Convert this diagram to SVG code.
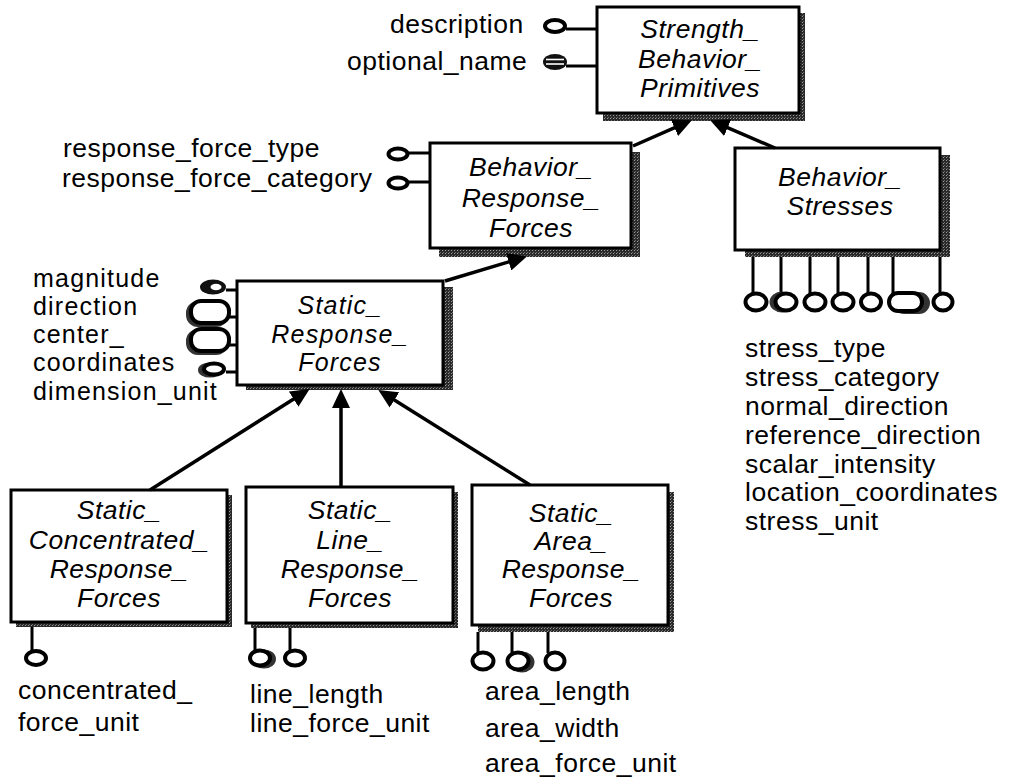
<svg xmlns="http://www.w3.org/2000/svg" width="1009" height="780" viewBox="0 0 1009 780">
  <defs>
    <!-- stippled drop shadow used behind every entity box -->
    <pattern id="stipple" width="3" height="3" patternUnits="userSpaceOnUse">
      <rect width="3" height="3" fill="#2a2a2a"/>
      <rect x="1" y="1" width="1" height="1" fill="#9a9a9a"/>
      <rect x="2" y="0" width="1" height="1" fill="#6a6a6a"/>
    </pattern>
    <!-- solid arrowhead pointing at the supertype -->
    <marker id="arrow" markerUnits="userSpaceOnUse" markerWidth="20" markerHeight="18"
            viewBox="0 0 20 18" refX="9" refY="9" orient="auto">
      <path d="M0,0 L19,9 L0,18 z" fill="#000"/>
    </marker>
    <style>
      .box { fill: #fff; stroke: #000; stroke-width: 3; }
      .shadow { fill: url(#stipple); }
      .title { font-family: "Liberation Sans", Arial, sans-serif; font-style: italic; font-size: 26.5px; letter-spacing: 0.5px; text-anchor: middle; fill: #000; }
      .attr { font-family: "Liberation Sans", Arial, sans-serif; font-size: 26.5px; letter-spacing: 0.5px; fill: #000; }
      .tight { font-size: 25px; letter-spacing: 1.2px; }
      .stem { stroke: #000; stroke-width: 3; fill: none; }
      .ring { fill: #fff; stroke: #000; stroke-width: 4; }
      .ringsh { fill: #333; stroke: #333; stroke-width: 4; }
      .link { stroke: #000; stroke-width: 3.5; fill: none; marker-end: url(#arrow); }
    </style>
  </defs>

  <rect width="1009" height="780" fill="#fff"/>

  <!-- Strength_Behavior_Primitives -->
  <g id="strength_behavior_primitives">
    <rect class="shadow" x="603" y="13" width="202" height="108"/>
    <rect class="box" x="597" y="7" width="202" height="106"/>
    <text class="title" x="700" y="38">Strength_</text>
    <text class="title" x="700" y="68">Behavior_</text>
    <text class="title" x="700" y="97">Primitives</text>
    <line class="stem" x1="566" y1="29" x2="597" y2="29"/>
    <ellipse class="ring" cx="555" cy="26" rx="10" ry="6"/>
    <text class="attr" x="390" y="33">description</text>
    <line class="stem" x1="566" y1="66" x2="597" y2="66"/>
    <ellipse cx="555" cy="62" rx="12" ry="8" fill="#111"/>
    <line x1="546" y1="59.5" x2="564" y2="59.5" stroke="#fff" stroke-width="1.6"/>
    <line x1="546" y1="64" x2="564" y2="64" stroke="#fff" stroke-width="1.6"/>
    <text class="attr" x="347" y="70">optional_name</text>
  </g>

  <!-- Behavior_Response_Forces -->
  <g id="behavior_response_forces">
    <rect class="shadow" x="439" y="152" width="201" height="105"/>
    <rect class="box" x="430" y="143" width="201" height="105"/>
    <text class="title" x="531" y="176">Behavior_</text>
    <text class="title" x="531" y="207">Response_</text>
    <text class="title" x="531" y="237">Forces</text>
    <line class="stem" x1="408" y1="153" x2="430" y2="153"/>
    <ellipse class="ring" cx="398" cy="154" rx="9.5" ry="5.5"/>
    <text class="attr" x="63" y="157">response_force_type</text>
    <line class="stem" x1="408" y1="182" x2="430" y2="182"/>
    <ellipse class="ring" cx="398" cy="183" rx="9.5" ry="5.5"/>
    <text class="attr" x="62" y="187">response_force_category</text>
  </g>

  <!-- Behavior_Stresses -->
  <g id="behavior_stresses">
    <rect class="shadow" x="745" y="155" width="205" height="102"/>
    <rect class="box" x="735" y="148" width="205" height="102"/>
    <text class="title" x="840" y="186">Behavior_</text>
    <text class="title" x="840" y="215">Stresses</text>
    <path class="stem" d="M753,257 V294 M781,257 V294 M810,257 V294 M838,257 V294 M868,257 V294 M893,257 V294 M940,257 V294"/>
    <ellipse class="ring" cx="756" cy="302" rx="10.5" ry="8.5"/>
    <ellipse class="ringsh" cx="782" cy="302" rx="10.5" ry="8.5"/>
    <ellipse class="ring" cx="786" cy="302" rx="10.5" ry="8.5"/>
    <ellipse class="ring" cx="815" cy="302" rx="10.5" ry="8.5"/>
    <ellipse class="ring" cx="843" cy="302" rx="10.5" ry="8.5"/>
    <ellipse class="ring" cx="871" cy="302" rx="10" ry="8.5"/>
    <rect class="ringsh" x="895" y="294" width="33" height="18" rx="9"/>
    <rect class="ring" x="889" y="293" width="33" height="18" rx="9"/>
    <ellipse class="ring" cx="943" cy="302" rx="9.5" ry="8.5"/>
    <text class="attr" x="745" y="357">stress_type</text>
    <text class="attr" x="745" y="386">stress_category</text>
    <text class="attr" x="745" y="415">normal_direction</text>
    <text class="attr" x="745" y="444">reference_direction</text>
    <text class="attr" x="745" y="473">scalar_intensity</text>
    <text class="attr" x="745" y="501">location_coordinates</text>
    <text class="attr" x="745" y="530">stress_unit</text>
  </g>

  <!-- Static_Response_Forces -->
  <g id="static_response_forces">
    <rect class="shadow" x="246" y="287" width="207" height="103"/>
    <rect class="box" x="237" y="281" width="206" height="104"/>
    <text class="title tight" x="340" y="314">Static_</text>
    <text class="title tight" x="340" y="343">Response_</text>
    <text class="title tight" x="340" y="371">Forces</text>
    <path class="stem" d="M226,290 H237 M229,317 H237 M229,345 H237 M226,372 H237"/>
    <ellipse cx="213" cy="287" rx="13" ry="7.5" fill="#111"/>
    <ellipse cx="216" cy="287" rx="5.5" ry="3.2" fill="#fff"/>
    <rect class="ringsh" x="188" y="303" width="38" height="22" rx="10"/>
    <rect class="ring" x="191" y="301" width="38" height="22" rx="10"/>
    <rect class="ringsh" x="188" y="331" width="38" height="22" rx="10"/>
    <rect class="ring" x="191" y="329" width="38" height="22" rx="10"/>
    <ellipse class="ringsh" cx="210" cy="370" rx="10" ry="5.5"/>
    <ellipse class="ring" cx="214" cy="369" rx="10" ry="5.5"/>
    <text class="attr tight" x="33" y="287">magnitude</text>
    <text class="attr tight" x="33" y="315">direction</text>
    <text class="attr tight" x="33" y="343">center_</text>
    <text class="attr tight" x="33" y="371">coordinates</text>
    <text class="attr tight" x="33" y="400">dimension_unit</text>
  </g>

  <!-- Static_Concentrated_Response_Forces -->
  <g id="static_concentrated_response_forces">
    <rect class="shadow" x="16" y="495" width="216" height="132"/>
    <rect class="box" x="11" y="490" width="216" height="132"/>
    <text class="title" x="119" y="519">Static_</text>
    <text class="title" x="119" y="549">Concentrated_</text>
    <text class="title" x="119" y="578">Response_</text>
    <text class="title" x="119" y="607">Forces</text>
    <line class="stem" x1="32" y1="627" x2="32" y2="651"/>
    <ellipse class="ring" cx="36" cy="658" rx="10" ry="7"/>
    <text class="attr" x="18" y="699">concentrated_</text>
    <text class="attr" x="18" y="731">force_unit</text>
  </g>

  <!-- Static_Line_Response_Forces -->
  <g id="static_line_response_forces">
    <rect class="shadow" x="251" y="492" width="207" height="136"/>
    <rect class="box" x="246" y="487" width="207" height="136"/>
    <text class="title" x="350" y="519">Static_</text>
    <text class="title" x="350" y="549">Line_</text>
    <text class="title" x="350" y="578">Response_</text>
    <text class="title" x="350" y="607">Forces</text>
    <path class="stem" d="M255,628 V651 M290,628 V651"/>
    <ellipse class="ringsh" cx="264" cy="659" rx="10" ry="7.5"/>
    <ellipse class="ring" cx="260" cy="658" rx="10" ry="7.5"/>
    <ellipse class="ring" cx="295" cy="658" rx="10" ry="7.5"/>
    <text class="attr" x="250" y="703">line_length</text>
    <text class="attr" x="250" y="732">line_force_unit</text>
  </g>

  <!-- Static_Area_Response_Forces -->
  <g id="static_area_response_forces">
    <rect class="shadow" x="478" y="492" width="196" height="140"/>
    <rect class="box" x="472" y="485" width="196" height="140"/>
    <text class="title" x="571" y="522">Static_</text>
    <text class="title" x="571" y="550">Area_</text>
    <text class="title" x="571" y="578">Response_</text>
    <text class="title" x="571" y="607">Forces</text>
    <path class="stem" d="M478,632 V653 M512,632 V653 M548,632 V653"/>
    <ellipse class="ring" cx="483" cy="661" rx="10.5" ry="8.5"/>
    <ellipse class="ringsh" cx="522" cy="662" rx="10.5" ry="8.5"/>
    <ellipse class="ring" cx="518" cy="661" rx="10.5" ry="8.5"/>
    <ellipse class="ring" cx="555" cy="661" rx="9.5" ry="8.5"/>
    <text class="attr" x="485" y="700">area_length</text>
    <text class="attr" x="485" y="737">area_width</text>
    <text class="attr" x="485" y="772">area_force_unit</text>
  </g>

  <!-- subtype links, arrowhead on the supertype side -->
  <g id="connectors">
    <line class="link" x1="633" y1="146" x2="682.7" y2="124.2"/>
    <line class="link" x1="775" y1="148" x2="719.4" y2="124.2"/>
    <line class="link" x1="445" y1="281" x2="517.3" y2="259.3"/>
    <line class="link" x1="150" y1="490" x2="301.2" y2="394.3"/>
    <line class="link" x1="341" y1="487" x2="341" y2="399"/>
    <line class="link" x1="530" y1="485" x2="386.8" y2="395.2"/>
  </g>
</svg>
